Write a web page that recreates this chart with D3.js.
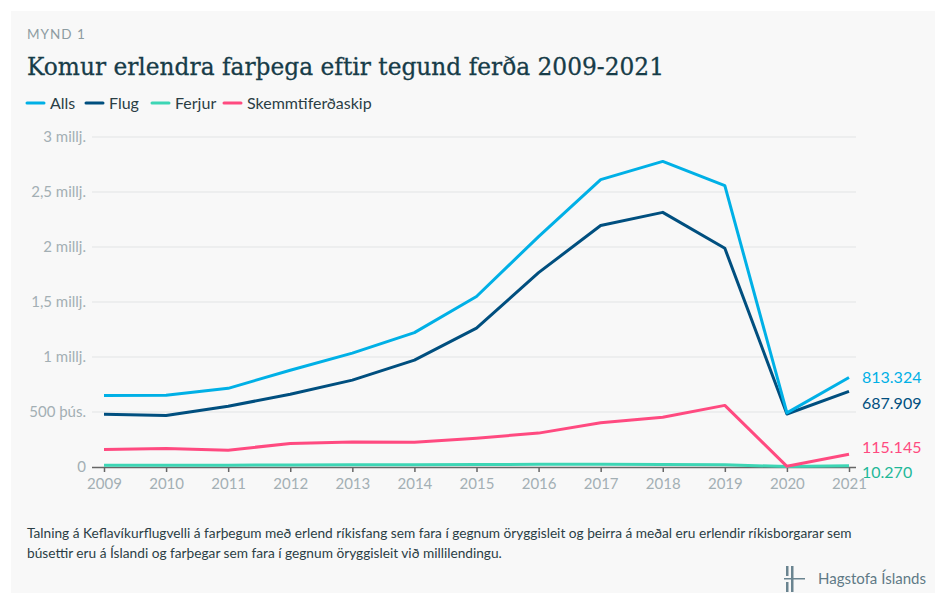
<!DOCTYPE html>
<html><head><meta charset="utf-8">
<script src="https://cdn.jsdelivr.net/npm/d3@7"></script>
<style>
html,body{margin:0;padding:0;background:#fff;}
svg{display:block;}
</style></head>
<body>
<svg id="c" width="935" height="603"></svg>
<script>
const years = [2009,2010,2011,2012,2013,2014,2015,2016,2017,2018,2019,2020,2021];
const alls = [650000,652000,715000,880000,1035000,1222000,1550000,2095000,2612000,2778000,2558000,492000,813324];
const flug = [480000,468000,552000,662000,790000,972000,1262000,1767000,2195000,2315000,1988000,482000,687909];
const ferjur = [15000,16000,17000,19000,20000,21000,22000,24000,25000,23000,20000,4000,10270];
const skemmti = [158000,168000,153000,214000,228000,224000,262000,308000,402000,452000,560000,6000,115145];
const seriesNames = ["Alls","Flug","Ferjur","Skemmtiferðaskip"];
const colors = ["#00b0e6","#004f7f","#3dd6b5","#ff4a80"];
const endLabels = ["813.324","687.909","10.270","115.145"];
const yTicks = [0,500000,1000000,1500000,2000000,2500000,3000000];
const yTickLabels = ["0","500 þús.","1 millj.","1,5 millj.","2 millj.","2,5 millj.","3 millj."];

const svg = d3.select("#c");
svg.append("rect").attr("x",11).attr("y",11).attr("width",935).attr("height",582).attr("fill","#f8f8f8");

const font = "Lato, 'Open Sans', sans-serif";
svg.append("text").attr("x",27).attr("y",39).text("MYND 1")
  .attr("font-family",font).attr("font-size",13.5).attr("letter-spacing",1).attr("fill","#8d9ca2");
svg.append("text").attr("x",27).attr("y",75).text("Komur erlendra farþega eftir tegund ferða 2009-2021")
  .attr("font-family","'DejaVu Serif', serif").attr("font-size",25).attr("fill","#173c48")
  .attr("stroke","#173c48").attr("stroke-width",0.3)
  .attr("textLength",637).attr("lengthAdjust","spacingAndGlyphs");

// legend
const legX = [27,86,152,224];
seriesNames.forEach((n,i)=>{
  svg.append("line").attr("x1",legX[i]).attr("x2",legX[i]+17).attr("y1",103).attr("y2",103)
    .attr("stroke",colors[i]).attr("stroke-width",3).attr("stroke-linecap","round");
  svg.append("text").attr("x",legX[i]+23).attr("y",108.5).text(n)
    .attr("font-family",font).attr("font-size",16).attr("fill","#2b3e45");
});

const x = d3.scaleLinear().domain([2009,2021]).range([104,849]);
const y = d3.scaleLinear().domain([0,3000000]).range([467,137]);

// gridlines
svg.append("g").selectAll("line").data(yTicks.slice(1)).join("line")
  .attr("x1",92).attr("x2",856).attr("y1",d=>y(d)).attr("y2",d=>y(d))
  .attr("stroke","#e2e4e5").attr("stroke-width",1);

// y labels
svg.append("g").selectAll("text").data(yTicks).join("text")
  .attr("x",86).attr("y",d=>y(d)+5).attr("text-anchor","end")
  .text((d,i)=>yTickLabels[i])
  .attr("font-family",font).attr("font-size",15).attr("fill","#a3afb4");

// x axis
const xAxis = d3.axisBottom(x).tickValues(years).tickFormat(d3.format("d")).tickSize(5).tickSizeOuter(0);
const gx = svg.append("g").attr("transform","translate(0,467)").call(xAxis);
gx.select(".domain").attr("d","M92,0.5H856").attr("stroke","#666").attr("stroke-width",1.5);
gx.selectAll(".tick line").attr("stroke","#666").attr("stroke-width",1.5);
gx.selectAll(".tick text").attr("font-family",font).attr("font-size",15).attr("fill","#a3afb4").attr("dy","0.9em");

const data = [alls,flug,ferjur,skemmti];
const line = d3.line().x((d,i)=>x(years[i])).y(d=>y(d));
[2,3,1,0].forEach(i=>{
  svg.append("path").attr("d",line(data[i])).attr("fill","none")
    .attr("stroke",colors[i]).attr("stroke-width",3).attr("stroke-linejoin","round");
});

// end labels
const endY = [377,403,472,447];
const endCol = ["#00b0e6","#004f7f","#1fb898","#ff4a80"];
data.forEach((d,i)=>{
  svg.append("text").attr("x",862).attr("y",endY[i]+6).text(endLabels[i])
    .attr("font-family",font).attr("font-size",16).attr("fill",endCol[i]);
});

// footnote
const foot = ["Talning á Keflavíkurflugvelli á farþegum með erlend ríkisfang sem fara í gegnum öryggisleit og þeirra á meðal eru erlendir ríkisborgarar sem",
"búsettir eru á Íslandi og farþegar sem fara í gegnum öryggisleit við millilendingu."];
foot.forEach((t,i)=>{
  svg.append("text").attr("x",27).attr("y",538+i*20).text(t)
    .attr("font-family",font).attr("font-size",13.7).attr("fill","#2b3e45");
});

// logo
const lg = svg.append("g").attr("fill","#6a8490");
lg.append("rect").attr("x",786).attr("y",566).attr("width",2.5).attr("height",10);
lg.append("rect").attr("x",791).attr("y",566).attr("width",2.5).attr("height",26);
lg.append("rect").attr("x",786).attr("y",582).attr("width",2.5).attr("height",10);
lg.append("rect").attr("x",784).attr("y",578).attr("width",21).attr("height",1.5);
svg.append("text").attr("x",818).attr("y",584).text("Hagstofa Íslands")
  .attr("font-family",font).attr("font-size",15).attr("fill","#5f7a86");
</script>
</body></html>
